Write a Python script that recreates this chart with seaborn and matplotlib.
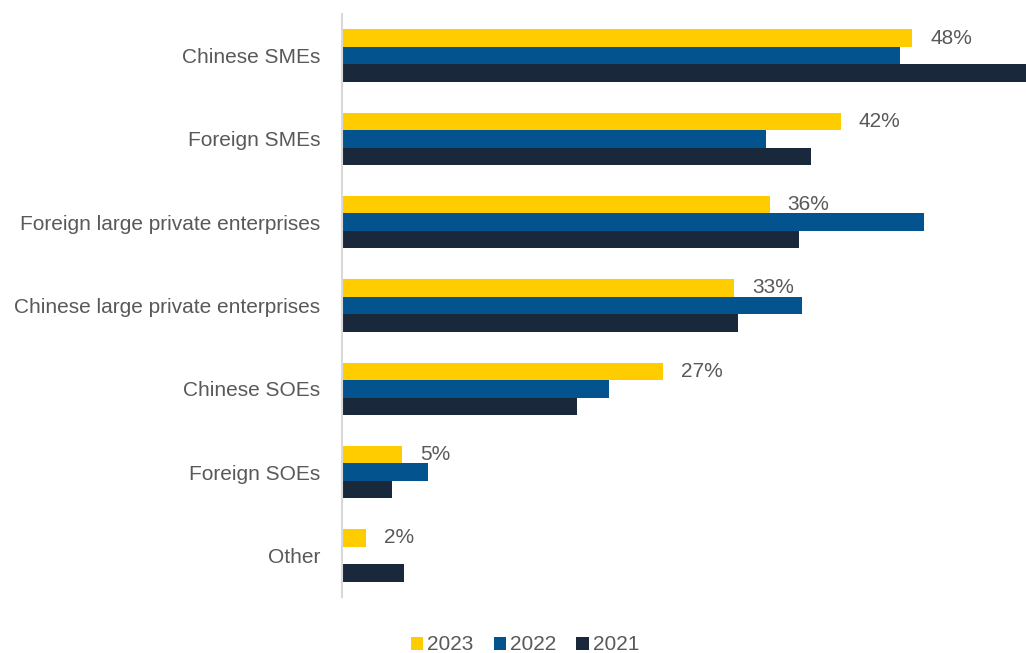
import matplotlib
matplotlib.use("Agg")
import matplotlib.pyplot as plt
from matplotlib.patches import Patch
import numpy as np
import pandas as pd
import seaborn as sns

# Share of respondents by type of competitor, per survey year (%)
categories = [
    "Chinese SMEs",
    "Foreign SMEs",
    "Foreign large private enterprises",
    "Chinese large private enterprises",
    "Chinese SOEs",
    "Foreign SOEs",
    "Other",
]
years = ["2023", "2022", "2021"]
values_2023 = [48, 42, 36, 33, 27, 5, 2]
values_2022 = [47, 35.7, 49, 38.7, 22.5, 7.2, np.nan]
values_2021 = [59, 39.5, 38.5, 33.3, 19.8, 4.2, 5.2]

colors = ["#FFCC00", "#03538F", "#19283A"]
text_gray = "#595959"

df = pd.DataFrame({
    "category": categories * 3,
    "year": [y for y in years for _ in categories],
    "value": values_2023 + values_2022 + values_2021,
})

sns.set_theme(style="white")
plt.rcParams["font.family"] = ["Liberation Sans", "DejaVu Sans"]

fig = plt.figure(figsize=(10.26, 6.53), dpi=100)
ax = fig.add_axes([0.3337, 0.0858, 0.6663, 0.8928])

sns.barplot(
    data=df, x="value", y="category", hue="year",
    order=categories, hue_order=years, palette=colors,
    orient="h", width=0.63, linewidth=0, saturation=1,
    errorbar=None, legend=False, ax=ax,
)

ax.set_xlim(0, 57.6)
ax.set_xlabel("")
ax.set_ylabel("")
ax.set_xticks([])
ax.tick_params(axis="y", length=0, pad=16, labelsize=15, labelcolor=text_gray)

for side in ("top", "right", "bottom"):
    ax.spines[side].set_visible(False)
ax.spines["left"].set_color("#D9D9D9")
ax.spines["left"].set_linewidth(1.5)

# Value labels on the 2023 bars
ax.bar_label(ax.containers[0], labels=[f"{v:g}%" for v in values_2023],
             padding=13, fontsize=15, color=text_gray)

handles = [Patch(facecolor=c, edgecolor="none", label=y) for c, y in zip(colors, years)]
fig.legend(
    handles=handles, loc="center", bbox_to_anchor=(525 / 1026, 1 - 645 / 653),
    ncol=3, frameon=False, fontsize=15, labelcolor=text_gray,
    handlelength=0.6, handleheight=0.6, handletextpad=0.2, columnspacing=0.95,
)

fig.savefig("out.png", dpi=100)
